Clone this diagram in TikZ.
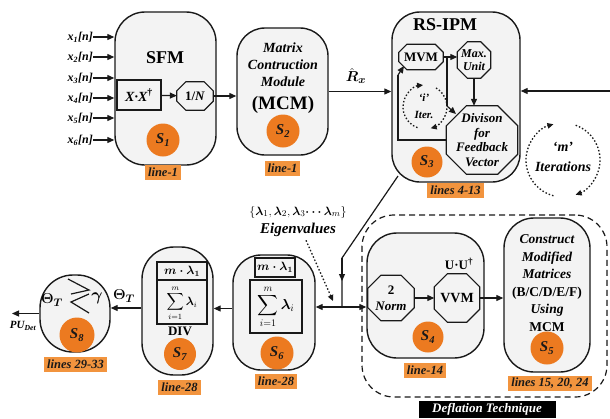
\documentclass[tikz,border=0pt]{standalone}
\usepackage{exscale}
\usepackage{amsmath}
\usepackage{fontspec}
\setmainfont{Liberation Serif}
\usetikzlibrary{arrows.meta,shapes.misc,shapes.geometric}
\definecolor{boxgray}{RGB}{243,243,243}
\definecolor{sorange}{RGB}{236,122,32}
\definecolor{lorange}{RGB}{242,148,62}
\definecolor{ink}{RGB}{25,25,25}
\newcommand{\octpath}[2]{\draw[octline] ([xshift=#2]#1.north west) -- ([xshift=-#2]#1.north east) -- ([yshift=-#2]#1.north east) -- ([yshift=#2]#1.south east) -- ([xshift=-#2]#1.south east) -- ([xshift=#2]#1.south west) -- ([yshift=#2]#1.south west) -- ([yshift=-#2]#1.north west) -- cycle;}
\begin{document}
\begin{tikzpicture}[x=1pt,y=-1pt,
 stagebox/.style={draw=ink,line width=1.4pt,fill=boxgray,rounded corners=#1,inner sep=0pt},
 stagebox/.default=28pt,
 octnode/.style={inner sep=0pt,align=center},
 octline/.style={draw=ink,line width=1.2pt,line join=miter},
 plainbox/.style={draw=ink,line width=1.3pt,inner sep=0pt},
 sbadge/.style={circle,fill=sorange,minimum size=33pt,inner sep=0pt,text=ink,font=\fontsize{15}{15}\selectfont\bfseries\itshape},
 linelabel/.style={fill=lorange,inner xsep=3pt,inner ysep=0pt,text=ink,font=\fontsize{12.5}{12.5}\selectfont\bfseries\itshape,minimum height=15pt},
 conn/.style={draw=ink,line width=1.2pt,-{Triangle[length=7pt,width=6pt]}},
 wire/.style={draw=ink,line width=1.2pt},
 dotconn/.style={draw=ink,line width=1.3pt,dash pattern=on 1.5pt off 2pt,-{Triangle[length=6pt,width=5.5pt]}},
 titlef/.style={font=\fontsize{18}{18}\selectfont\bfseries},
]
\useasboundingbox[fill=white] (0,0) rectangle (610,418);

% ---------- S1 : SFM ----------
\node[stagebox=30pt,minimum width=101pt,minimum height=153pt] (s1) at (165.5,88.5) {};
\node[titlef] (sfmt) at (165,58) {SFM};
\node[plainbox,minimum width=44pt,minimum height=30pt,font=\fontsize{14}{14}\selectfont\bfseries\itshape] (xx) at (139,95) {X·X\textsuperscript{\upshape†}};
\node[octnode,minimum width=36pt,minimum height=28pt,font=\fontsize{13}{13}\selectfont\bfseries] (oneN) at (195,96) {1/\textit{N}};
\octpath{oneN}{9pt}
\draw[conn] (xx) -- (oneN);
\foreach \i/\yy in {1/37,2/57,3/78,4/98,5/118,6/140}{
  \node[anchor=east,inner sep=0pt,font=\fontsize{12}{12}\selectfont\bfseries\itshape] (x\i) at (93,\yy) {x\textsubscript{\i}[n]};
  \draw[conn] (x\i.east) -- (x\i.east -| s1.west);
}
\node[sbadge] (b1) at (163,140) {S\textsubscript{1}};
\node[linelabel] (l1) at (163,172) {line-1};

% ---------- S2 : MCM ----------
\node[stagebox=28pt,minimum width=91pt,minimum height=127pt] (s2) at (282.5,91.5) {};
\node[align=center,font=\fontsize{14}{17}\selectfont\bfseries\itshape] (mcmt) at (283,65) {Matrix\\Contruction\\Module};
\node[font=\fontsize{19}{19}\selectfont\bfseries] (mcmm) at (283,105) {(MCM)};
\node[sbadge] (b2) at (283,131) {S\textsubscript{2}};
\node[linelabel] (l2) at (282.5,168.5) {line-1};
\draw[conn] (oneN.east) -- (oneN.east -| s2.west);

% ---------- S3 : RS-IPM ----------
\node[stagebox=28pt,minimum width=128pt,minimum height=170pt] (s3) at (456,97) {};
\node[titlef] (rst) at (445,25) {RS-IPM};
\node[octnode,minimum width=44pt,minimum height=25pt,font=\fontsize{13}{13}\selectfont\bfseries] (mvm) at (421,57) {MVM};
\octpath{mvm}{8pt}
\node[octnode,minimum width=33pt,minimum height=36pt,font=\fontsize{12}{13}\selectfont\bfseries\itshape] (maxu) at (474,60) {Max.\\Unit};
\octpath{maxu}{10pt}
\node[octnode,minimum width=71pt,minimum height=68pt,font=\fontsize{13}{14.5}\selectfont\bfseries\itshape] (div) at (482,140) {Divison\\for\\Feedback\\Vector};
\octpath{div}{20pt}
\draw[conn] (mvm.east) -- (mvm.east -| maxu.west);
\coordinate (brA) at (447,57);
\coordinate (brB) at (447,106);
\coordinate (brC) at (456,114);
\draw[wire] (brA) -- (brB);
\draw[conn] (brB) -- (brC);
\draw[conn] (maxu.south) -- (maxu.south |- div.north);
\coordinate (fbA) at (398,140);
\coordinate (fbB) at (398,75);
\coordinate (fbC) at (404,66);
\draw[wire] (div.west) -- (fbA) -- (fbB);
\draw[conn] (fbB) -- (fbC);
\coordinate (ic) at (425,107);
\draw[dotconn] (ic) ++(-250:22) arc (-250:-95:22);
\draw[dotconn] (ic) ++(-60:22) arc (-60:75:22);
\node[align=center,font=\fontsize{11}{17}\selectfont\bfseries\itshape] (itxt) at (424,106) {‘i’\\Iter.};
\node[sbadge,minimum size=31pt] (b3) at (427,162) {S\textsubscript{3}};
\node[linelabel] (l3) at (455.5,190) {lines 4-13};

% R hat x
\draw[conn] (s2.east) -- (s2.east -| s3.west);
\node[font=\fontsize{15}{15}\selectfont,inner sep=1pt] (rx) at (356,76) {$\hat{\boldsymbol{R}}_{\boldsymbol{x}}$};
% feedback in from right
\coordinate (fbin) at (610,91);
\draw[conn] (fbin) -- (fbin -| s3.east);

% 'm' iterations
\coordinate (mc) at (563,160);
\draw[dotconn] (mc) ++(-255:37) arc (-255:-105:37);
\draw[dotconn] (mc) ++(-70:37) arc (-70:70:37);
\node[align=center,font=\fontsize{14}{20}\selectfont\bfseries\itshape] (mtxt) at (563,157) {‘m’\\Iterations};

% ---------- Deflation ----------
\node[draw=ink,line width=1.2pt,dash pattern=on 6pt off 4pt,rounded corners=32pt,minimum width=245pt,minimum height=182pt,inner sep=0pt] (defl) at (484.5,306) {};
\node[fill=black,text=white,minimum width=137pt,minimum height=17pt,inner sep=0pt,font=\fontsize{13}{13}\selectfont\bfseries\itshape] (dlab) at (487,409.5) {Deflation Technique};

% S4
\node[stagebox=30pt,minimum width=117pt,minimum height=125pt] (s4) at (425.5,295.5) {};
\node[octnode,minimum width=46pt,minimum height=45pt,font=\fontsize{13}{16}\selectfont\bfseries] (norm) at (391,298) {2\\\textit{Norm}};
\octpath{norm}{13pt}
\node[octnode,minimum width=45pt,minimum height=48pt,font=\fontsize{14}{14}\selectfont\bfseries] (vvm) at (457,298) {VVM};
\octpath{vvm}{13pt}
\node[font=\fontsize{13}{13}\selectfont\bfseries,inner sep=1pt] (uu) at (459,264) {U·U\textsuperscript{†}};
\draw[conn] (norm) -- (vvm);
\node[sbadge,minimum size=31pt] (b4) at (428,337) {S\textsubscript{4}};
\node[linelabel] (l4) at (425,370) {line-14};

% S5
\node[stagebox=30pt,minimum width=86pt,minimum height=154pt] (s5) at (547,295) {};
\node[align=center,font=\fontsize{13.5}{17.5}\selectfont\bfseries] (s5t) at (547,283) {\itshape Construct\\\itshape Modified\\\itshape Matrices\\(B/C/D/E/F)\\\itshape Using\\MCM};
\node[sbadge] (b5) at (547,348) {S\textsubscript{5}};
\node[linelabel] (l5) at (550,383.5) {lines 15, 20, 24};
\draw[conn] (vvm.east) -- (vvm.east -| s5.west);

% ---------- S6 ----------
\node[stagebox=28pt,minimum width=82pt,minimum height=115pt] (s6) at (274,312.5) {};
\node[plainbox,minimum width=40pt,minimum height=19pt,font=\fontsize{12}{12}\selectfont] (ml6) at (275,267.5) {$\boldsymbol{m\cdot\lambda_1}$};
\node[plainbox,minimum width=52pt,minimum height=53pt,font=\fontsize{14}{14}\selectfont] (sum6) at (276,306.5) {$\displaystyle\sum_{i=1}^{m}\boldsymbol{\lambda}_i$};
\node[sbadge] (b6) at (277,353) {S\textsubscript{6}};
\node[linelabel] (l6) at (276,381) {line-28};

% junction from RS-IPM
\coordinate (rsout) at (398,176);
\coordinate (bend) at (342,258);
\coordinate (bmid) at (342,281);
\coordinate (junc) at (342,307);
\draw[wire] (rsout) -- (bend) -- (junc);
\draw[conn] (bend) -- (bmid);
\draw[conn] (junc) -- (junc -| s6.east);
\draw[conn] (junc) -- (junc -| s4.west);

% eigenvalues
\node[font=\fontsize{13}{13}\selectfont] (eigs) at (298,212) {$\{\boldsymbol{\lambda}_1,\boldsymbol{\lambda}_2,\boldsymbol{\lambda}_3\boldsymbol{\cdots}\boldsymbol{\lambda}_m\}$};
\node[font=\fontsize{15}{15}\selectfont\bfseries\itshape] (eigt) at (298,230) {Eigenvalues};
\coordinate (eigtip) at (333,301);
\draw[dotconn] ([xshift=8pt]eigt.south) -- (eigtip);

% ---------- S7 ----------
\node[stagebox=32pt,minimum width=71pt,minimum height=128pt] (s7) at (177.5,311) {};
\node[plainbox,minimum width=50pt,minimum height=62pt] (frac7) at (182,293) {};
\node[font=\fontsize{12}{12}\selectfont,inner sep=0pt] (num7) at (182,271) {$\boldsymbol{m\cdot\lambda_1}$};
\coordinate (fline) at (182,280);
\draw[wire] (frac7.west |- fline) -- (frac7.east |- fline);
\node[font=\fontsize{12}{12}\selectfont,inner sep=0pt] (den7) at (182,303) {$\displaystyle\sum_{i=1}^{m}\boldsymbol{\lambda}_i$};
\node[font=\fontsize{13}{13}\selectfont\bfseries,inner sep=0pt] (divt) at (180,331) {DIV};
\node[sbadge,minimum size=32pt] (b7) at (180,354) {S\textsubscript{7}};
\node[linelabel] (l7) at (179.5,387.5) {line-28};
\path (s6.west) ++(0,-4) coordinate (a6);
\draw[conn] (a6) -- (a6 -| s7.east);

% ---------- S8 ----------
\node[stagebox=33pt,minimum width=70pt,minimum height=77pt] (s8) at (75,313.5) {};
\node[font=\fontsize{15}{15}\selectfont] (theta) at (52,300) {$\boldsymbol{\Theta}_{\boldsymbol{T}}$};
\node[font=\fontsize{16}{16}\selectfont] (gam) at (97,298) {$\boldsymbol{\gamma}$};
\draw[wire] (68,279) -- (89,290) -- (71,294);
\draw[wire] (89,294) -- (71,302) -- (89,313);
\node[sbadge,minimum size=35pt] (b8) at (77,335) {S\textsubscript{8}};
\node[linelabel] (l8) at (75.5,364) {lines 29-33};
\path (s7.west) ++(0,-3) coordinate (a7);
\draw[conn] (a7) -- (a7 -| s8.east);
\node[font=\fontsize{15}{15}\selectfont] (thl) at (124,296) {$\boldsymbol{\Theta}_{\boldsymbol{T}}$};
\coordinate (puend) at (12,313.5);
\draw[conn] (s8.west) -- (puend);
\node[font=\fontsize{11}{11}\selectfont\bfseries\itshape] (pul) at (23,326) {PU\textsubscript{Det}};
\end{tikzpicture}
\end{document}
